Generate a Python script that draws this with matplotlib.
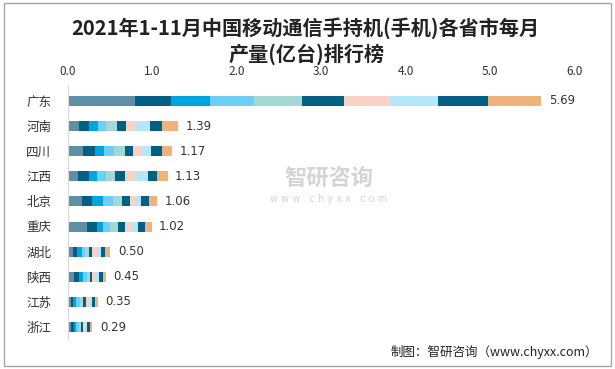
import matplotlib
matplotlib.use("Agg")
import matplotlib.pyplot as plt
from matplotlib.patches import Rectangle
import numpy as np

plt.rcParams['font.family'] = ['Noto Sans CJK SC', 'DejaVu Sans']

provinces = ["广东", "河南", "四川", "江西", "北京", "重庆", "湖北", "陕西", "江苏", "浙江"]
totals = [5.69, 1.39, 1.17, 1.13, 1.06, 1.02, 0.50, 0.45, 0.35, 0.29]

# monthly segments (10 stacked parts), one list per part across provinces
seg1 = [0.79, 0.13, 0.18, 0.12, 0.17, 0.23, 0.06, 0.07, 0.03, 0.03]
seg2 = [0.43, 0.12, 0.14, 0.13, 0.12, 0.11, 0.05, 0.06, 0.03, 0.04]
seg3 = [0.46, 0.11, 0.11, 0.09, 0.12, 0.07, 0.05, 0.05, 0.04, 0.03]
seg4 = [0.52, 0.09, 0.11, 0.11, 0.12, 0.09, 0.04, 0.04, 0.04, 0.03]
seg5 = [0.57, 0.13, 0.14, 0.11, 0.11, 0.09, 0.05, 0.04, 0.04, 0.02]
seg6 = [0.50, 0.11, 0.09, 0.11, 0.09, 0.09, 0.04, 0.03, 0.03, 0.03]
seg7 = [0.55, 0.11, 0.09, 0.14, 0.06, 0.07, 0.05, 0.04, 0.04, 0.02]
seg8 = [0.57, 0.17, 0.12, 0.14, 0.08, 0.08, 0.05, 0.04, 0.04, 0.03]
seg9 = [0.59, 0.14, 0.13, 0.11, 0.09, 0.08, 0.05, 0.04, 0.03, 0.03]
seg10 = [0.63, 0.19, 0.12, 0.12, 0.09, 0.08, 0.06, 0.04, 0.03, 0.03]
segments = [seg1, seg2, seg3, seg4, seg5, seg6, seg7, seg8, seg9, seg10]

colors = ["#5F8FA6", "#006184", "#00A5DF", "#6DCFF6", "#A2D8D5",
          "#006184", "#F9D2C7", "#B5E7FA", "#006184", "#EEB27A"]

xticks = [0.0, 1.0, 2.0, 3.0, 4.0, 5.0, 6.0]

fig = plt.figure(figsize=(6.15, 3.69), dpi=100)
fig.patches.append(Rectangle((0.006, 0.008), 0.988, 0.984, transform=fig.transFigure,
                             fill=False, edgecolor="#a6a6a6", linewidth=1.0))

ax = fig.add_axes([0.1106, 0.0797, 0.823, 0.691])
y = np.arange(len(provinces))
left = np.zeros(len(provinces))
for seg, c in zip(segments, colors):
    vals = np.array(seg)
    ax.barh(y, vals, left=left, height=0.4, color=c, linewidth=0)
    left += vals

for yi, (end, t) in zip(y, zip(left, totals)):
    ax.text(end + 0.09, yi, f"{t:.2f}", va="center", ha="left", fontsize=8.5,
            color="#333333", family=["DejaVu Sans"])

ax.set_xlim(0, 6)
ax.set_ylim(9.5, -0.65)
ax.set_yticks(y)
ax.set_yticklabels(provinces, fontsize=9, color="#333333")
ax.set_xticks(xticks)
ax.set_xticklabels([f"{v:.1f}" for v in xticks], fontsize=8.5, color="#333333")
ax.xaxis.tick_top()
ax.tick_params(axis="both", length=0)
ax.tick_params(axis="x", pad=5)
ax.tick_params(axis="y", pad=12)
for s in ["top", "right", "bottom"]:
    ax.spines[s].set_visible(False)
ax.spines["left"].set_color("#d9d9d9")

fig.text(0.497, 0.925, "2021年1-11月中国移动通信手持机(手机)各省市每月",
         ha="center", va="center", fontsize=14.5, fontweight="bold", color="#222222")
fig.text(0.499, 0.852, "产量(亿台)排行榜",
         ha="center", va="center", fontsize=14.5, fontweight="bold", color="#222222")

# watermark
fig.text(0.535, 0.517, "智研咨询", ha="center", va="center", fontsize=16,
         color="#d4d4d4", fontweight="bold")
fig.text(0.535, 0.462, "w w w . c h y x x . c o m", ha="center", va="center", fontsize=7,
         color="#d4d4d4", family=["DejaVu Sans"])

fig.text(0.972, 0.046, "制图：智研咨询（www.chyxx.com）", ha="right", va="center",
         fontsize=9, color="#222222")

fig.savefig("out.png", dpi=100)
